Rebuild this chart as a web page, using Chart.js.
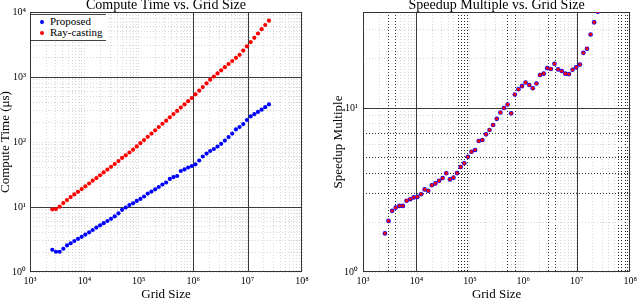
<!DOCTYPE html>
<html>
<head>
<meta charset="utf-8">
<script src="https://cdn.jsdelivr.net/npm/chart.js@4.4.0/dist/chart.umd.min.js"></script>
<style>
    html, body { margin: 0; padding: 0; background: #fff; }
    #wrap { position: relative; width: 640px; height: 298px; overflow: hidden; }
    .panel { position: absolute; top: 0; width: 320px; height: 298px; }
    #legend {
        position: absolute; left: 31px; top: 14px; width: 75px;
        padding: 1px 0 2px 0; background: #fff;
        border-top: 1px solid #444; border-bottom: 1px solid #444;
        font: 11px "Liberation Serif", serif; line-height: 11px; color: #000;
    }
    #legend .row { height: 11px; display: flex; align-items: center; padding-left: 9px; }
    #legend .dot { width: 4px; height: 4px; border-radius: 50%; margin-right: 6px; }
</style>
</head>
<body>
<div id="wrap">
    <div class="panel" style="left:0"><canvas id="timeChart" width="320" height="298"></canvas></div>
    <div class="panel" style="left:320px"><canvas id="speedChart" width="320" height="298"></canvas></div>
    <div id="legend"></div>
</div>
<script>
// ===== DATA =====
const gridSize = [
    2570, 3000, 3510, 4100, 4790, 5590, 6530, 7630, 8910, 10400,
    12200, 14200, 16600, 19400, 22600, 26500, 30900, 36100, 42200, 49300,
    57500, 67200, 78500, 91700, 107000, 125000, 146000, 171000, 200000, 233000,
    272000, 318000, 372000, 434000, 507000, 592000, 692000, 808000, 944000, 1100000,
    1290000, 1500000, 1760000, 2050000, 2400000, 2800000, 3270000, 3820000, 4470000, 5220000,
    6100000, 7120000, 8320000, 9720000, 11400000, 13300000, 15500000, 18100000, 21100000, 24700000
];

// compute time in microseconds
const proposedTime = [
    2.20, 2.05, 2.05, 2.28, 2.56, 2.77, 3.00, 3.24, 3.48, 3.76,
    4.08, 4.43, 4.82, 5.23, 5.64, 6.09, 6.58, 7.19, 8.00, 9.06,
    9.82, 10.7, 11.4, 12.4, 13.3, 14.5, 16.1, 17.3, 18.7, 20.3,
    22.2, 23.8, 27.0, 28.9, 30.0, 35.8, 37.8, 40.5, 42.7, 45.4,
    51.9, 59.8, 66.3, 72.7, 78.0, 85.3, 93.8, 105, 119, 135,
    156, 170, 189, 218, 247, 268, 290, 314, 343, 378
];
const rayCastingTime = [
    9.2, 9.3, 10.1, 11.5, 12.8, 14.2, 15.6, 17.1, 18.9, 20.8,
    23.0, 25.4, 27.9, 30.8, 34.0, 37.6, 41.5, 45.9, 51.0, 56.8,
    62.4, 68.9, 76.2, 85.5, 95.9, 107, 120, 135, 151, 170,
    191, 213, 240, 269, 301, 338, 379, 424, 475, 542,
    615, 701, 800, 908, 1018, 1136, 1268, 1415, 1585, 1762,
    1974, 2196, 2547, 2965, 3451, 4008, 4667, 5433, 6310, 7345
];
const speedup = [
    1.72, 2.05, 2.36, 2.47, 2.53, 2.53, 2.72, 2.78, 2.85, 2.87,
    2.98, 3.19, 3.13, 3.38, 3.47, 3.60, 3.74, 4.00, 3.67, 3.76,
    4.01, 4.37, 4.60, 5.04, 5.41, 5.55, 6.29, 6.38, 6.91, 7.34,
    7.88, 8.59, 9.39, 10.0, 10.5, 9.28, 12.1, 13.0, 13.6, 14.3,
    13.8, 13.2, 14.1, 15.9, 16.2, 17.5, 17.3, 18.6, 17.2, 16.8,
    16.2, 16.1, 17.1, 17.7, 18.4, 21.7, 23.0, 28.1, 33.3, 38.7
];

// ===== TICKS =====
const xTickValues = [1e3, 1e4, 1e5, 1e6, 1e7, 1e8];
const xTickLabels = ["10³", "10⁴", "10⁵", "10⁶", "10⁷", "10⁸"];
const timeTickValues = [1, 10, 100, 1000, 10000];
const timeTickLabels = ["10⁰", "10¹", "10²", "10³", "10⁴"];
const speedTickValues = [1, 10];
const speedTickLabels = ["10⁰", "10¹"];

Chart.defaults.font.family = '"Liberation Serif", "Times New Roman", serif';
Chart.defaults.color = "#000";

// 1..9 x each decade, up to max
function gridValues(decades, max) {
    const out = [];
    decades.forEach(d => {
        for (let m = 1; m <= 9; m++) {
            if (d * m <= max) out.push(d * m);
        }
    });
    return out;
}

function logAxis(o) {
    return {
        type: "logarithmic",
        min: o.min,
        max: o.max,
        afterBuildTicks: s => { s.ticks = gridValues(o.decades, o.max).map(v => ({ value: v })); },
        afterFit: s => {
            if (o.width) s.width = o.width;
            if (o.height) s.height = o.height;
        },
        grid: {
            color: c => (c.tick && o.dotDark.includes(c.tick.value)) ? "#2a2a2a" : "#d6d6d6",
            lineWidth: 1,
            drawTicks: false
        },
        border: { display: false, dash: [1, 2] },
        ticks: {
            autoSkip: false,
            maxRotation: 0,
            padding: o.tickPad,
            font: { size: 10 },
            callback: v => {
                const i = o.decades.indexOf(v);
                return i >= 0 ? o.labels[i] : "";
            }
        },
        title: { display: true, text: o.title, font: { size: 13 }, padding: o.titlePad }
    };
}

// ===== SOLID GRID LINES + FRAME =====
const frameLines = {
    id: "frameLines",
    beforeDatasetsDraw(chart, args, opts) {
        const { ctx, chartArea: a } = chart;
        const xs = chart.scales.x, ys = chart.scales.y;
        ctx.save();
        ctx.strokeStyle = "#3a3a3a";
        ctx.lineWidth = 1;
        ctx.beginPath();
        (opts.x || []).forEach(v => {
            const p = Math.round(xs.getPixelForValue(v)) + 0.5;
            ctx.moveTo(p, a.top); ctx.lineTo(p, a.bottom);
        });
        (opts.y || []).forEach(v => {
            const p = Math.round(ys.getPixelForValue(v)) + 0.5;
            ctx.moveTo(a.left, p); ctx.lineTo(a.right, p);
        });
        ctx.stroke();
        ctx.strokeStyle = "#333";
        ctx.strokeRect(Math.round(a.left) + 0.5, Math.round(a.top) + 0.5,
            Math.round(a.width) - 1, Math.round(a.height) - 1);
        ctx.restore();
    }
};

function titleOpts(text) {
    return {
        display: true, text: text, fullSize: false, color: "#000",
        font: { size: 14, weight: "normal", lineHeight: 1 },
        padding: { top: -2, bottom: 0 }
    };
}

function points(ys) {
    return gridSize.map((x, i) => ({ x: x, y: ys[i] }));
}

// ===== LEFT: COMPUTE TIME =====
const timeDatasets = [
    {
        label: "Proposed",
        data: points(proposedTime),
        pointBackgroundColor: "#0000ff",
        pointRadius: 2.1,
        pointBorderWidth: 0
    },
    {
        label: "Ray-casting",
        data: points(rayCastingTime),
        pointBackgroundColor: "#ff0000",
        pointRadius: 2.1,
        pointBorderWidth: 0
    }
];

new Chart(document.getElementById("timeChart"), {
    type: "scatter",
    data: { datasets: timeDatasets },
    options: {
        responsive: false,
        animation: false,
        devicePixelRatio: 1,
        layout: { padding: { right: 18 } },
        plugins: {
            title: titleOpts("Compute Time vs. Grid Size"),
            legend: { display: false },
            tooltip: { enabled: false },
            frameLines: { x: [1e6, 1e7], y: [10, 1000] }
        },
        scales: {
            x: logAxis({
                min: 1e3, max: 1e8, decades: xTickValues, labels: xTickLabels,
                height: 26, tickPad: 3, title: "Grid Size",
                titlePad: { top: 0, bottom: -4 }, dotDark: []
            }),
            y: logAxis({
                min: 1, max: 1e4, decades: timeTickValues, labels: timeTickLabels,
                width: 30, tickPad: 4, title: "Compute Time (μs)",
                titlePad: { top: -2, bottom: 0 }, dotDark: []
            })
        }
    },
    plugins: [frameLines]
});

// legend box inside the left plot
const legendEl = document.getElementById("legend");
timeDatasets.forEach(ds => {
    const row = document.createElement("div");
    row.className = "row";
    row.innerHTML = `<span class="dot" style="background:${ds.pointBackgroundColor}"></span><span>${ds.label}</span>`;
    legendEl.appendChild(row);
});

// ===== RIGHT: SPEEDUP =====
new Chart(document.getElementById("speedChart"), {
    type: "scatter",
    data: {
        datasets: [
            {
                label: "Speedup",
                data: points(speedup),
                pointStyle: "rect",
                pointBackgroundColor: "#ff0000",
                pointRadius: 2,
                pointBorderWidth: 0
            },
            {
                label: "Speedup (proposed)",
                data: points(speedup),
                pointBackgroundColor: "#0000ff",
                pointRadius: 2.3,
                pointBorderWidth: 0
            }
        ]
    },
    options: {
        responsive: false,
        animation: false,
        devicePixelRatio: 1,
        layout: { padding: { right: 7 } },
        plugins: {
            title: titleOpts("Speedup Multiple vs. Grid Size"),
            legend: { display: false },
            tooltip: { enabled: false },
            frameLines: { x: [1e4, 1e7], y: [10] }
        },
        scales: {
            x: logAxis({
                min: 1e3, max: 1e8, decades: xTickValues, labels: xTickLabels,
                height: 26, tickPad: 3, title: "Grid Size",
                titlePad: { top: 0, bottom: -4 },
                dotDark: [3e3, 4e3, 6e4, 7e4, 8e4, 9e4, 5e5, 7e5, 3e6, 4e6, 6e7, 7e7, 8e7, 9e7]
            }),
            y: logAxis({
                min: 1, max: 38.5, decades: speedTickValues, labels: speedTickLabels,
                width: 43, tickPad: 5, title: "Speedup Multiple",
                titlePad: { top: 11, bottom: 0 }, dotDark: [3, 4, 5, 7]
            })
        }
    },
    plugins: [frameLines]
});
</script>
</body>
</html>
